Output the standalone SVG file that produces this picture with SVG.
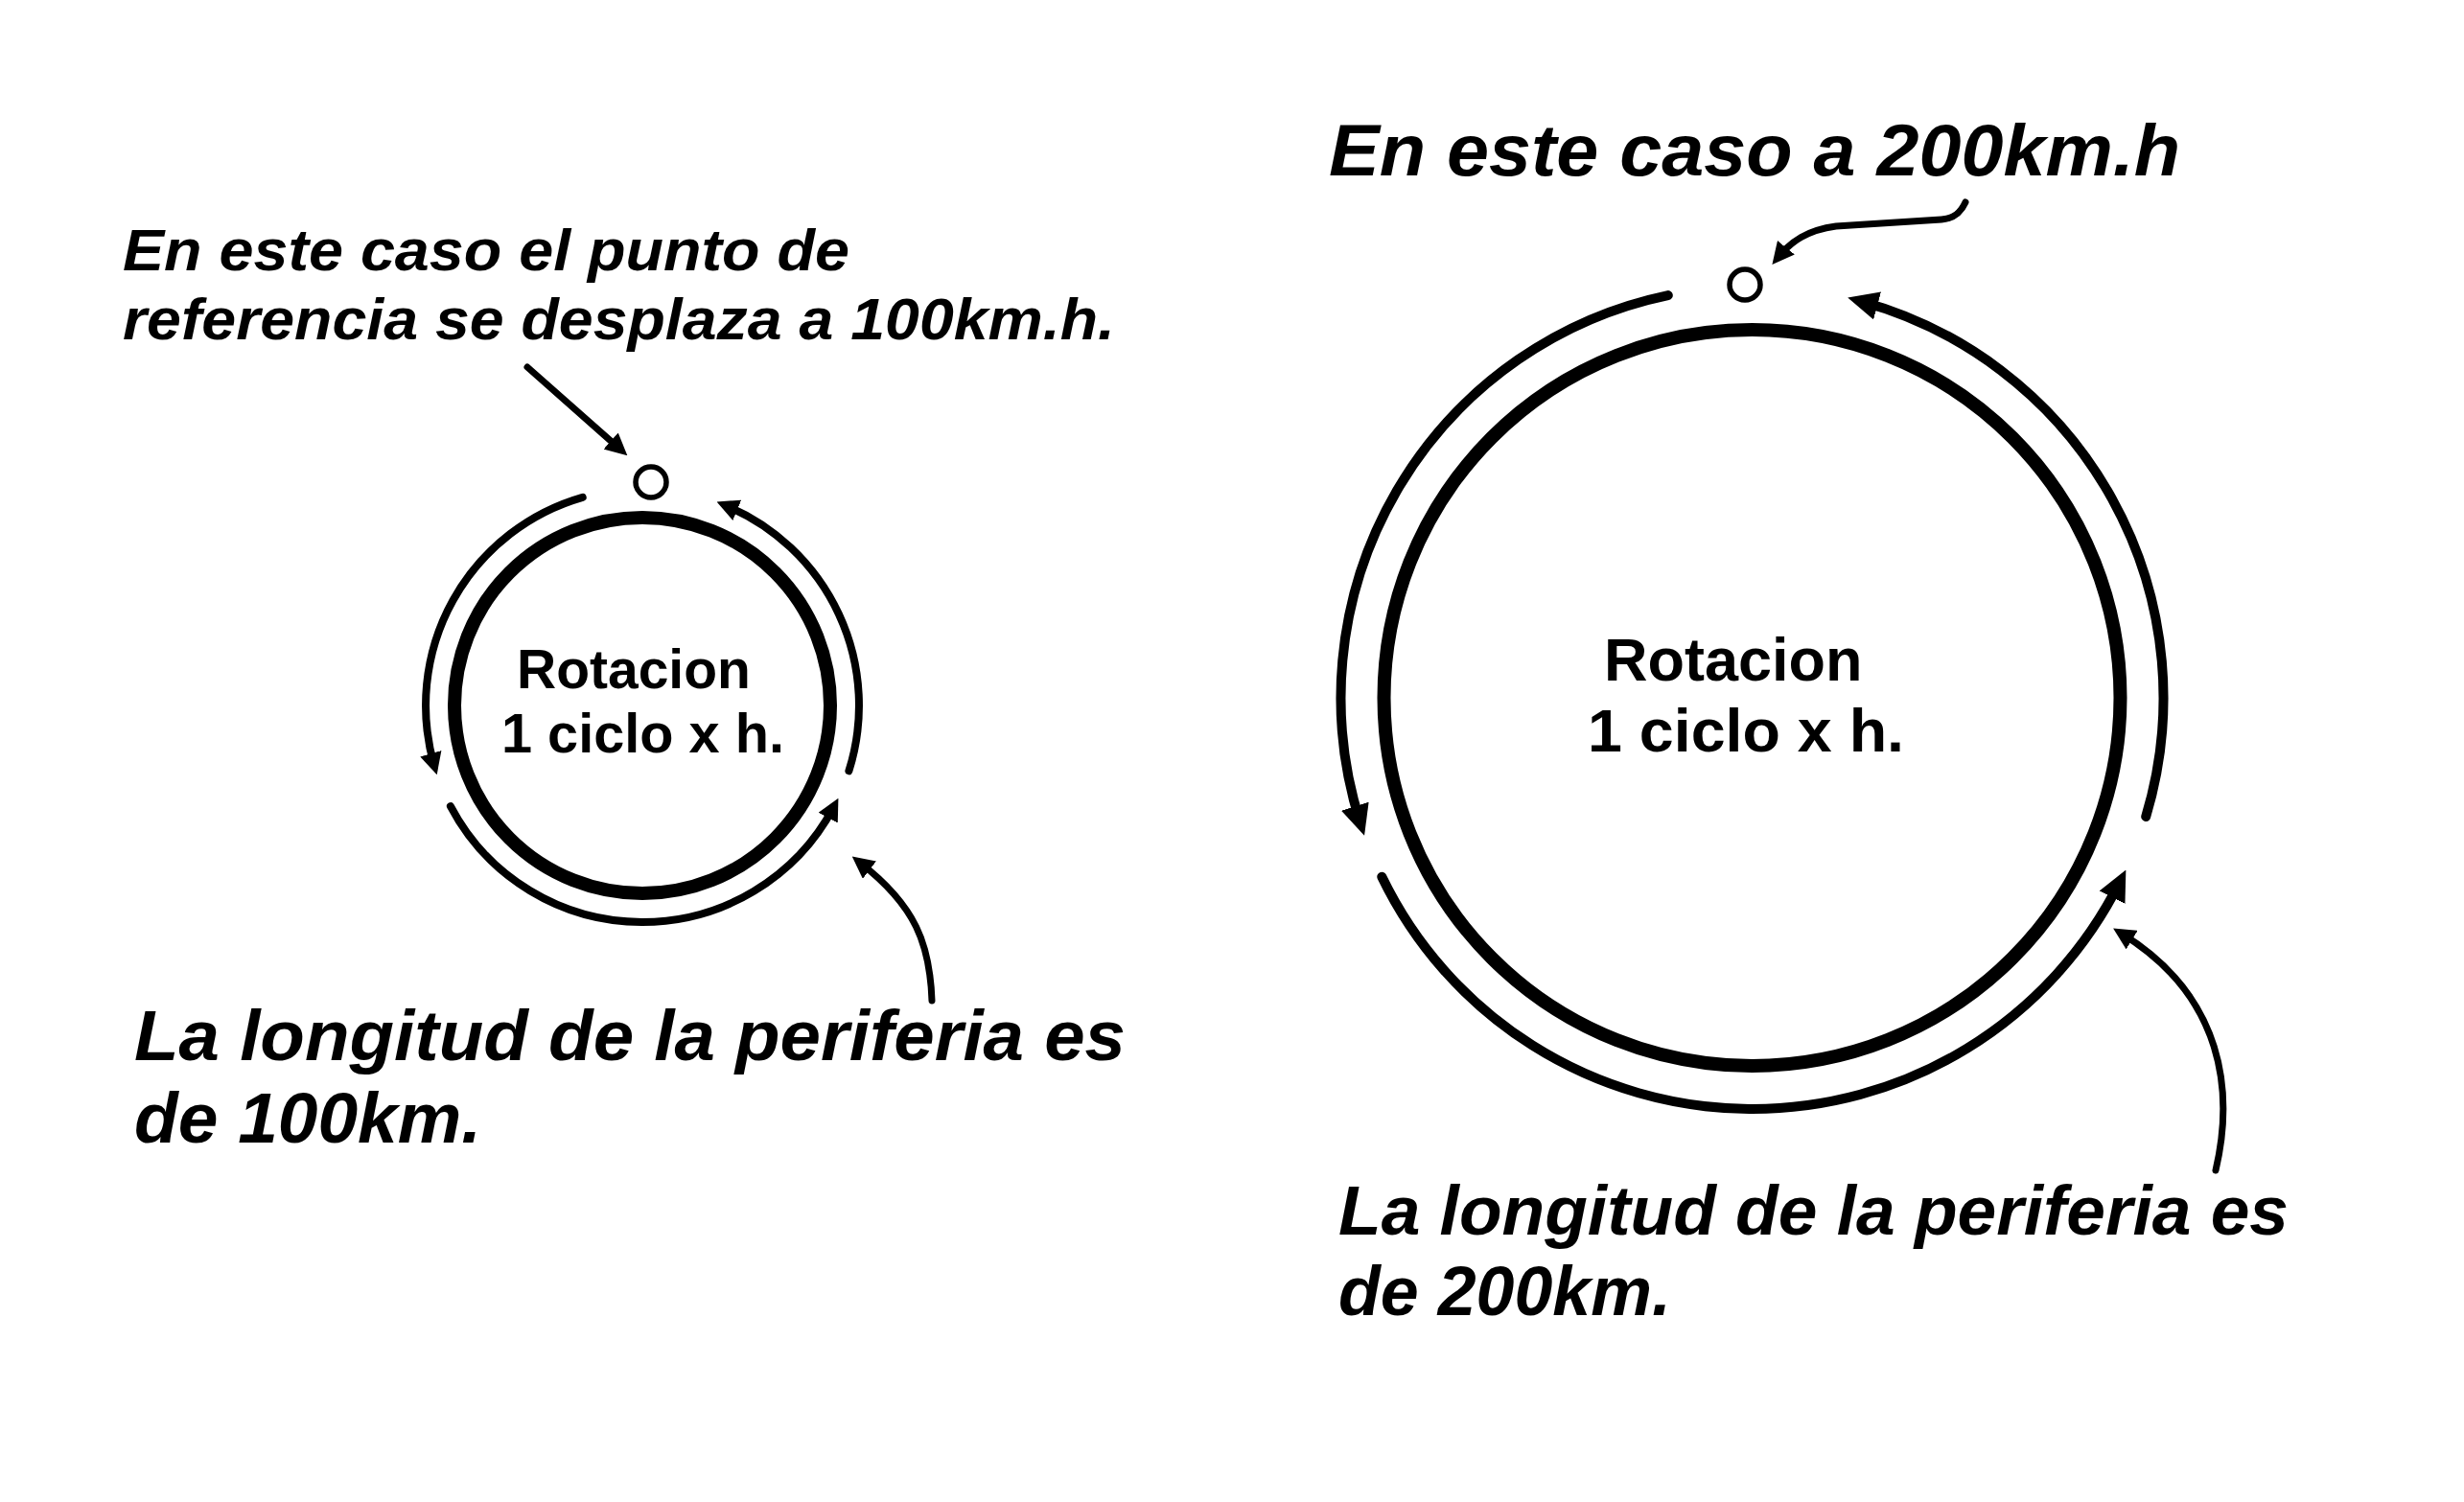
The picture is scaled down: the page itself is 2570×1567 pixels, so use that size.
<svg xmlns="http://www.w3.org/2000/svg" width="2570" height="1567" viewBox="0 0 2570 1567">
<style>
.ring{fill:none;stroke:#000;stroke-width:14}
.dot{fill:#fff;stroke:#000;stroke-width:5.5}
.arc{fill:none;stroke:#000;stroke-width:8;stroke-linecap:round}
.arcb{fill:none;stroke:#000;stroke-width:10;stroke-linecap:round}
.ptr{fill:none;stroke:#000;stroke-width:7;stroke-linecap:round}
.lbl{font-family:"Liberation Sans",Arial,sans-serif;font-weight:bold;font-style:italic;fill:#000}
.ctr{font-family:"Liberation Sans",Arial,sans-serif;font-weight:bold;fill:#000}
</style>
<defs>
<marker id="ah" viewBox="0 0 22 22" markerWidth="23" markerHeight="23" refX="12" refY="11" orient="auto" markerUnits="userSpaceOnUse"><path d="M0,0 L22,11 L0,22 z" fill="#000"/></marker>
<marker id="ahb" viewBox="0 0 32 30" markerWidth="32" markerHeight="30" refX="18" refY="15" orient="auto" markerUnits="userSpaceOnUse"><path d="M0,0 L32,15 L0,30 z" fill="#000"/></marker>
</defs>
<rect width="2570" height="1567" fill="#fff"/>
<g id="small-wheel">
<circle class="ring" cx="670" cy="736" r="196"/>
<text class="ctr" x="539" y="718" font-size="57">Rotacion</text>
<text class="ctr" x="523" y="785" font-size="57" textLength="295" lengthAdjust="spacingAndGlyphs">1 ciclo x h.</text>
</g>
<g id="small-point"><circle class="dot" cx="679" cy="503" r="16"/></g>
<g id="small-top-label">
<text class="lbl" x="128" y="282" font-size="62" textLength="758" lengthAdjust="spacingAndGlyphs">En este caso el punto de</text>
<text class="lbl" x="128" y="354" font-size="62" textLength="1035" lengthAdjust="spacingAndGlyphs">referencia se desplaza a 100km.h.</text>
</g>
<g id="small-bottom-label">
<text class="lbl" x="140" y="1106" font-size="75" textLength="1034" lengthAdjust="spacingAndGlyphs">La longitud de la periferia es</text>
<text class="lbl" x="140" y="1192" font-size="75" textLength="362" lengthAdjust="spacingAndGlyphs">de 100km.</text>
</g>
<g id="big-wheel">
<circle class="ring" cx="1827.5" cy="728" r="384"/>
<text class="ctr" x="1673" y="710" font-size="63">Rotacion</text>
<text class="ctr" x="1656" y="784" font-size="63" textLength="330" lengthAdjust="spacingAndGlyphs">1 ciclo x h.</text>
</g>
<g id="big-point"><circle class="dot" cx="1820" cy="297" r="16"/></g>
<g id="big-top-label">
<text class="lbl" x="1386" y="183" font-size="76" textLength="888" lengthAdjust="spacingAndGlyphs">En este caso a 200km.h</text>
</g>
<g id="big-bottom-label">
<text class="lbl" x="1396" y="1288" font-size="72" textLength="991" lengthAdjust="spacingAndGlyphs">La longitud de la periferia es</text>
<text class="lbl" x="1396" y="1372" font-size="72" textLength="347" lengthAdjust="spacingAndGlyphs">de 200km.</text>
</g>
<g id="connectors">
<path class="arc" d="M607.7,518.8 A226,226 0 0 0 452.8,798.3" marker-end="url(#ah)"/>
<path class="arc" d="M469.9,841.1 A226,226 0 0 0 869.5,842.1" marker-end="url(#ah)"/>
<path class="arc" d="M885.4,804.3 A226,226 0 0 0 757.2,527.5" marker-end="url(#ah)"/>
<path class="ptr" d="M550,383 L646.5,468.4" marker-end="url(#ah)"/>
<path class="ptr" d="M972,1044 C970,985 955,945 897,900" marker-end="url(#ah)"/>
<path class="arcb" d="M1739.8,308.1 A429,429 0 0 0 1418.8,858.4" marker-end="url(#ahb)"/>
<path class="arcb" d="M1441.3,914.7 A429,429 0 0 0 2211.1,920.1" marker-end="url(#ahb)"/>
<path class="arcb" d="M2238.2,852 A429,429 0 0 0 1940.7,314.2" marker-end="url(#ahb)"/>
<path class="ptr" d="M2050,211 C2045,222 2038,228 2025,229 L1915,236 C1885,240 1868,252 1855,268" marker-end="url(#ah)"/>
<path class="ptr" d="M2311,1221 C2330,1140 2320,1040 2213,974" marker-end="url(#ah)"/>
</g>
</svg>
